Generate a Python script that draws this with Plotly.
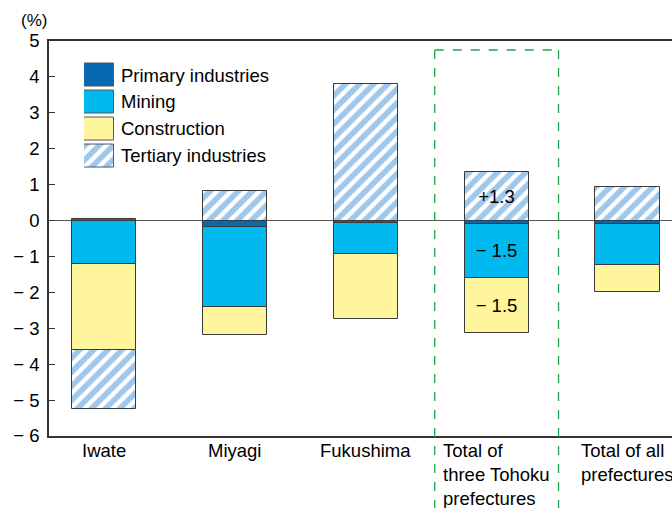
import plotly.graph_objects as go

# ---- data ----
categories = ["Iwate", "Miyagi", "Fukushima", "Total of three Tohoku prefectures", "Total of all prefectures"]
category_labels = ["Iwate", "Miyagi", "Fukushima", "Total of<br>three Tohoku<br>prefectures", "Total of all<br>prefectures"]
primary = [0.03, -0.18, -0.07, -0.10, -0.10]
mining = [-1.20, -2.23, -0.87, -1.50, -1.13]
construction = [-2.40, -0.79, -1.81, -1.53, -0.76]
tertiary = [-1.65, 0.82, 3.80, 1.36, 0.94]
mining_text = ["", "", "", "\u2212 1.5", ""]
construction_text = ["", "", "", "\u2212 1.5", ""]
tertiary_text = ["", "", "", "+1.3", ""]
series_names = ["Primary industries", "Mining", "Construction", "Tertiary industries"]
y_tick_vals = [5, 4, 3, 2, 1, 0, -1, -2, -3, -4, -5, -6]
y_tick_text = ["5", "4", "3", "2", "1", "0", "\u2212 1", "\u2212 2", "\u2212 3", "\u2212 4", "\u2212 5", "\u2212 6"]
highlight_category = 3

# ---- style ----
FONT = "Liberation Sans, Arial, sans-serif"
FS = 18.5
C_PRIMARY = "#0868b0"
C_MINING = "#00b9ee"
C_CONSTR = "#fff59c"
C_STRIPE = "#9ec7ec"
EDGE = dict(color="#3a3a3a", width=1)
BAR_W = 0.49
Y_MIN, Y_MAX = -6, 5
X_MIN, X_MAX = -0.42, 4.34
STRIPES = dict(shape="/", fgcolor=C_STRIPE, bgcolor="white", size=10, solidity=0.55, fgopacity=1)

series_values = [primary, mining, construction, tertiary]
series_text = [None, mining_text, construction_text, tertiary_text]
series_colors = [C_PRIMARY, C_MINING, C_CONSTR, "white"]
series_patterns = [None, None, None, STRIPES]

fig = go.Figure()

for name, vals, txt, col, pat in zip(series_names, series_values, series_text, series_colors, series_patterns):
    marker = dict(color=col, line=EDGE)
    if pat:
        marker["pattern"] = pat
    fig.add_trace(go.Bar(x=categories, y=vals, name=name, width=BAR_W, marker=marker,
                         showlegend=False, text=txt, textposition="inside",
                         insidetextanchor="middle", textangle=0,
                         textfont=dict(color="black", size=FS, family=FONT)))

# legend drawn as an inset axis of swatches (one swatch per series)
for name, col, pat in zip(series_names, series_colors, series_patterns):
    marker = dict(color=col, line=dict(color="#555555", width=1))
    if pat:
        marker["pattern"] = pat
    fig.add_trace(go.Bar(x=[1], y=[name], orientation="h", xaxis="x2", yaxis="y2",
                         width=0.87, showlegend=False, hoverinfo="skip", marker=marker))

fig.update_layout(
    width=672, height=508,
    margin=dict(l=49, r=0, t=41, b=72),
    paper_bgcolor="white", plot_bgcolor="white",
    barmode="relative", bargap=0,
    font=dict(family=FONT, size=FS, color="black"),
    uniformtext=dict(minsize=10, mode="show"),
    xaxis=dict(type="category", categoryorder="array", categoryarray=categories,
               range=[X_MIN, X_MAX], showticklabels=False, ticks="",
               showline=True, mirror=True, linecolor="#333333", linewidth=1.5,
               showgrid=False, zeroline=False, fixedrange=True),
    yaxis=dict(range=[Y_MIN, Y_MAX], tickvals=y_tick_vals, ticktext=y_tick_text,
               ticks="inside", ticklen=6, tickcolor="#333333", tickwidth=1,
               ticklabelstandoff=4,
               showline=True, linecolor="#333333", linewidth=1.5,
               showgrid=False, zeroline=True, zerolinecolor="#555555", zerolinewidth=1,
               tickfont=dict(size=FS)),
    xaxis2=dict(domain=[0.0562, 0.1043], anchor="y2", range=[0, 1], visible=False,
                fixedrange=True),
    yaxis2=dict(domain=[0.675, 0.948], anchor="x2", type="category",
                categoryorder="array", categoryarray=series_names,
                autorange="reversed", side="right", showline=False, showgrid=False,
                zeroline=False, ticks="", ticklabelstandoff=6,
                tickfont=dict(size=FS), fixedrange=True),
)

# category labels below the axis
for cat, lab in zip(categories, category_labels):
    fig.add_annotation(x=cat, xref="x", y=0, yref="paper", text=lab, showarrow=False,
                       xanchor="center", yanchor="top", align="left", yshift=-2,
                       font=dict(size=FS, family=FONT, color="black"))

# unit label
fig.add_annotation(x=0, xref="paper", y=1, yref="paper", text="(%)", showarrow=False,
                   xanchor="right", yanchor="bottom", xshift=0, yshift=9,
                   font=dict(size=FS - 1.5, family=FONT, color="black"))

# dashed green frame around the three-prefecture total
top_val = 4.75
top_paper = (top_val - Y_MIN) / (Y_MAX - Y_MIN)
x_left = highlight_category - 0.473
x_right = highlight_category + 0.473
green = dict(color="#1fa24f", width=1.3, dash="dash")
fig.add_shape(type="line", xref="x", yref="paper", x0=x_left, x1=x_left, y0=top_paper, y1=-0.25, line=green)
fig.add_shape(type="line", xref="x", yref="paper", x0=x_right, x1=x_right, y0=top_paper, y1=-0.25, line=green)
fig.add_shape(type="line", xref="x", yref="paper", x0=x_left, x1=x_right, y0=top_paper, y1=top_paper, line=green)

fig.write_html("out.html")
